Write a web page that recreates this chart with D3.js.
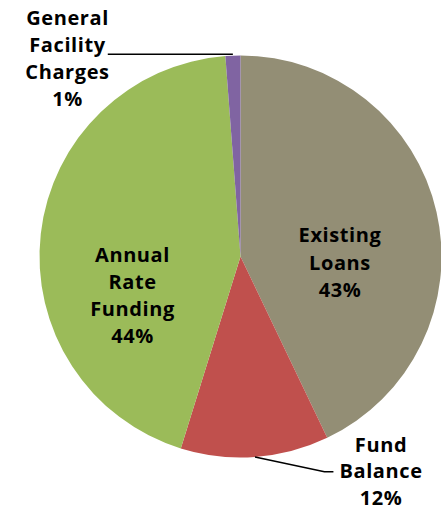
<!DOCTYPE html>
<html>
<head>
<meta charset="utf-8">
<script src="https://cdn.jsdelivr.net/npm/d3@7"></script>
<style>
  html, body { margin: 0; padding: 0; background: #fff; }
  svg { display: block; }
  text { font-family: "Century Gothic", "Open Sans", Lato, sans-serif; font-weight: bold; font-size: 20px; letter-spacing: 0.6px; fill: #000; }
</style>
</head>
<body>
<div id="chart"></div>
<script>
// Funding sources, share of total (%)
const categories = ["Existing Loans", "Fund Balance", "Annual Rate Funding", "General Facility Charges"];
const shares = [42.9, 11.9, 44.0, 1.2];
const colors = ["#938E75", "#C0504D", "#9BBB59", "#8064A2"];

// Label lines as drawn (category names wrapped)
const labelLines = [["Existing", "Loans"], ["Fund", "Balance"], ["Annual", "Rate", "Funding"], ["General", "Facility", "Charges"]];

// Label anchor (centre x, first baseline y) relative to pie centre; outside labels get leader lines
const labelAnchor = [[99.5, -14.5], [140.5, 195], [-108, 5.5], [-173, -231.5]];
const labelStep = [27.5, 26.5, 27, 27];
const outside = [false, true, false, true];

const W = 441, H = 510;
const cx = 240.5, cy = 256.5, R = 201;

const svg = d3.select("#chart").append("svg").attr("width", W).attr("height", H);
const g = svg.append("g").attr("transform", `translate(${cx},${cy})`);

const data = categories.map((c, i) => ({ name: c, value: shares[i], i }));
const pie = d3.pie().value(d => d.value).sort(null);
const arc = d3.arc().innerRadius(0).outerRadius(R);
const arcs = pie(data);

g.selectAll("path.slice")
  .data(arcs)
  .join("path")
  .attr("class", "slice")
  .attr("d", arc)
  .attr("fill", d => colors[d.data.i]);

const pct = d3.format(".0f");

// Labels
const labels = g.selectAll("text.lbl")
  .data(arcs)
  .join("text")
  .attr("class", "lbl")
  .attr("text-anchor", "middle");

labels.each(function(d) {
  const t = d3.select(this);
  const [ax, ay] = labelAnchor[d.data.i];
  const step = labelStep[d.data.i];
  const lines = labelLines[d.data.i].concat([pct(d.data.value) + "%"]);
  lines.forEach((ln, k) => {
    t.append("tspan").attr("x", ax).attr("y", ay + k * step).text(ln);
  });
});

// Leader lines for outside labels
const pointAt = (a, r) => [Math.sin(a) * r, -Math.cos(a) * r];
arcs.forEach(d => {
  if (!outside[d.data.i]) return;
  const mid = (d.startAngle + d.endAngle) / 2;
  const node = labels.filter(e => e.data.i === d.data.i).node();
  const second = node.querySelectorAll("tspan")[1].getBBox();
  let pts;
  if (Math.cos(mid) > 0) {
    // top label: horizontal line from the label's second line to the slice edge
    const p = pointAt(mid, R + 1.5);
    pts = [[second.x + second.width + 2, p[1]], p];
  } else {
    // bottom label: from the slice edge down to the label's second line
    const p = pointAt(mid, R);
    const yEnd = second.y + second.height * 0.55;
    pts = [p, [second.x - 15, yEnd], [second.x - 6, yEnd]];
  }
  g.append("path")
    .attr("d", d3.line()(pts))
    .attr("fill", "none")
    .attr("stroke", "#000")
    .attr("stroke-width", 1.5);
});
</script>
</body>
</html>
